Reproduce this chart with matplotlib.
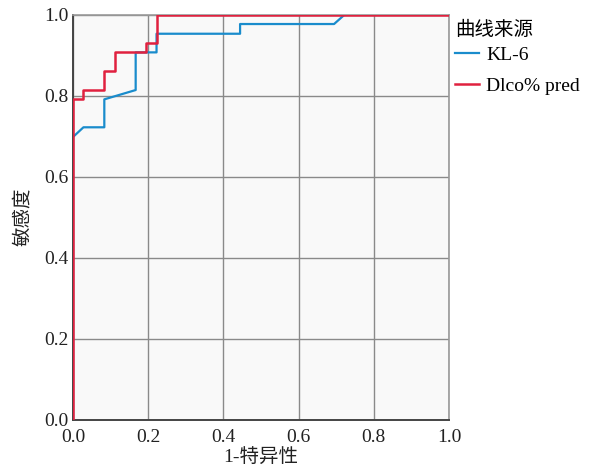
import matplotlib
matplotlib.use("Agg")
import matplotlib.pyplot as plt

plt.rcParams['font.family'] = ['Liberation Serif', 'Noto Sans CJK SC', 'DejaVu Sans']

# ROC curve data (1-specificity, sensitivity)
kl6_fpr = [0.0, 0.0, 0.0278, 0.0833, 0.0833, 0.1667, 0.1667, 0.2222, 0.2222, 0.4444, 0.4444, 0.6944, 0.7222, 1.0]
kl6_tpr = [0.0, 0.698, 0.722, 0.722, 0.791, 0.814, 0.907, 0.907, 0.953, 0.953, 0.977, 0.977, 1.0, 1.0]

dlco_fpr = [0.0, 0.0, 0.0278, 0.0278, 0.0833, 0.0833, 0.1111, 0.1111, 0.1944, 0.1944, 0.2222, 0.2222, 1.0]
dlco_tpr = [0.0, 0.791, 0.791, 0.814, 0.814, 0.860, 0.860, 0.907, 0.907, 0.930, 0.930, 1.0, 1.0]

series_names = ["KL-6", "Dlco% pred"]
legend_title = "曲线来源"
xlabel = "1-特异性"
ylabel = "敏感度"
ticks = [0.0, 0.2, 0.4, 0.6, 0.8, 1.0]

fs = 14

fig = plt.figure(figsize=(5.92, 4.67), dpi=100)
ax = fig.add_axes([0.1233, 0.1013, 0.6351, 0.8672])
ax.set_facecolor('#f9f9f9')

ax.plot(kl6_fpr, kl6_tpr, color='#1a8ccc', lw=1.6, label=series_names[0], zorder=3)
ax.plot(dlco_fpr, dlco_tpr, color='#e0213f', lw=1.8, label=series_names[1], zorder=4)

ax.set_xlim(0, 1)
ax.set_ylim(0, 1)
ax.set_xticks(ticks)
ax.set_yticks(ticks)
ax.set_xticklabels([f"{t:.1f}" for t in ticks])
ax.set_yticklabels([f"{t:.1f}" for t in ticks])
ax.tick_params(length=0, labelsize=fs, colors='#222222')
ax.tick_params(axis='x', pad=7)
ax.tick_params(axis='y', pad=3)
ax.grid(True, color='#8a8a8a', lw=1.0)
ax.set_axisbelow(True)

for s in ['left', 'bottom']:
    ax.spines[s].set_color('#444444')
    ax.spines[s].set_linewidth(1.4)
for s in ['top', 'right']:
    ax.spines[s].set_color('#999999')
    ax.spines[s].set_linewidth(1.2)

ax.set_xlabel(xlabel, fontsize=fs, labelpad=2, color='#222222')
ax.set_ylabel(ylabel, fontsize=fs, labelpad=9, color='#222222')

leg = ax.legend(title=legend_title, loc='upper left', bbox_to_anchor=(1.0, 0.998),
                frameon=False, fontsize=fs, title_fontsize=fs,
                handlelength=1.25, handletextpad=0.35, labelspacing=0.68,
                borderaxespad=0.0, borderpad=0.3)
leg._legend_box.align = 'left'
leg._legend_box.sep = 5

fig.savefig('out.png', dpi=100)
